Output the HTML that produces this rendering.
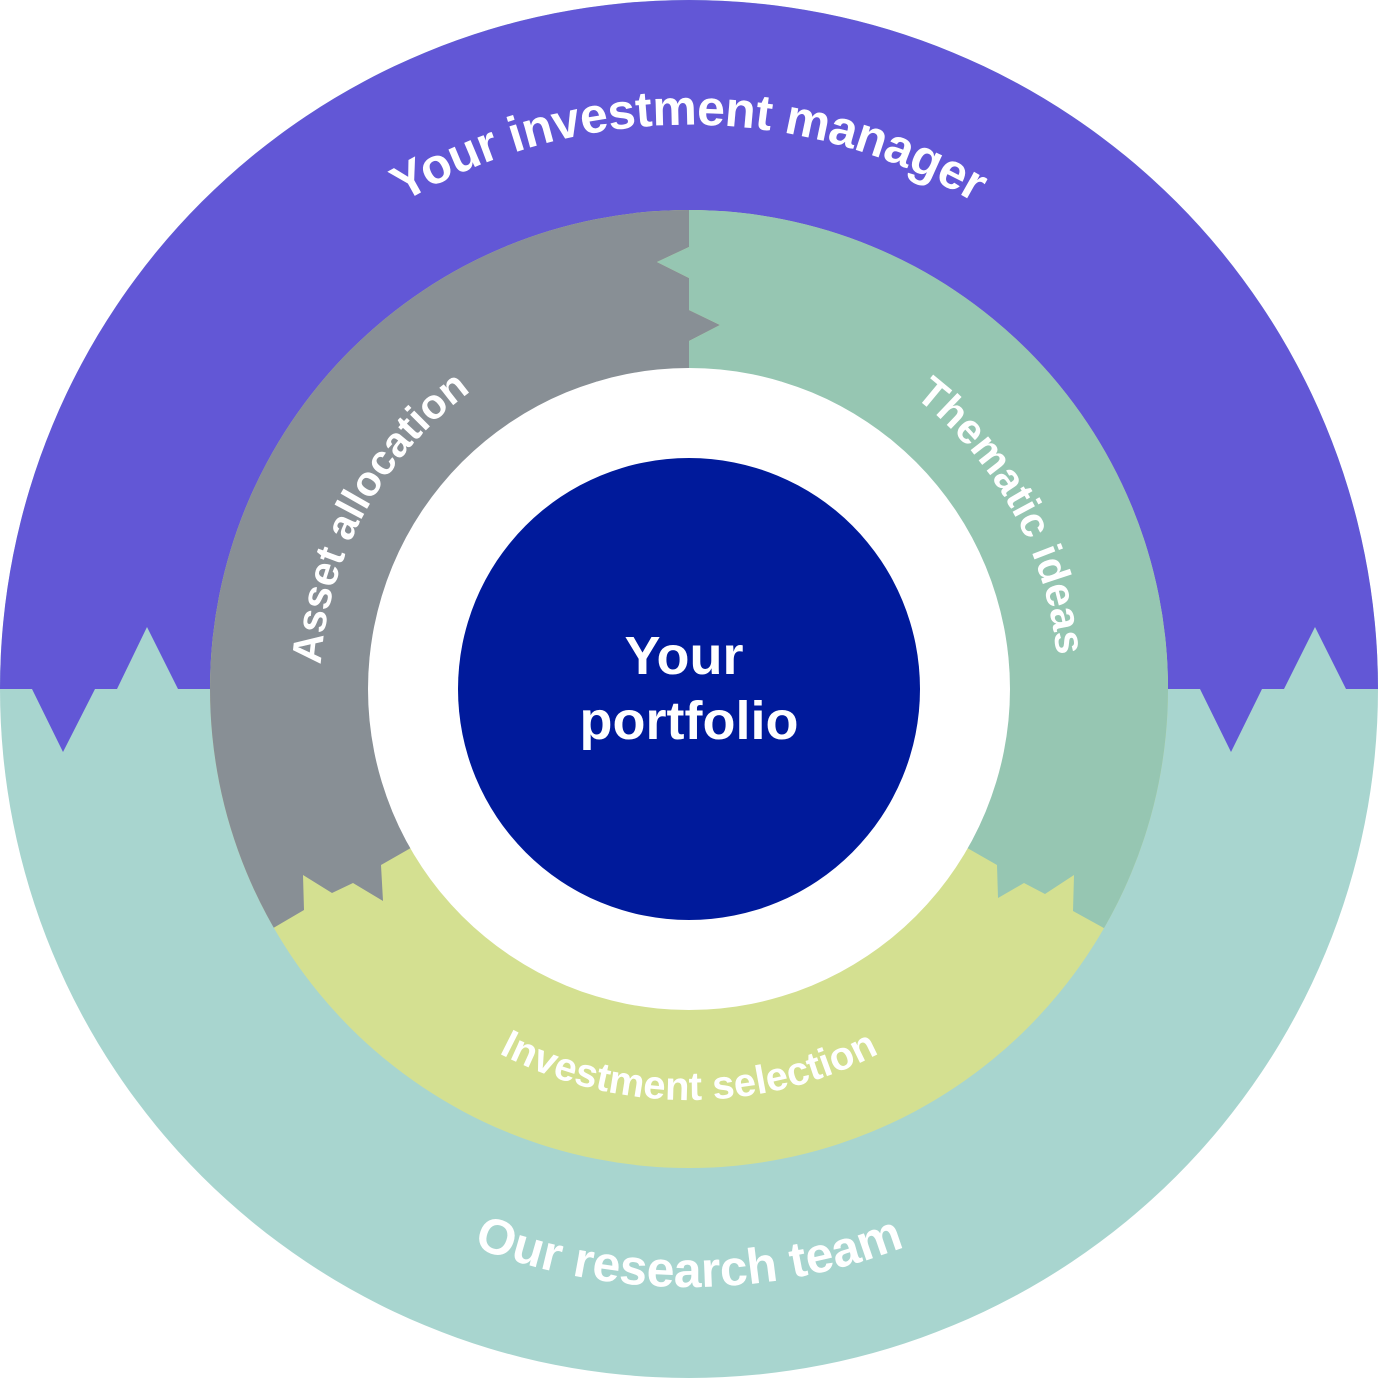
<!DOCTYPE html>
<html><head><meta charset="utf-8"><style>
html,body{margin:0;padding:0;background:#fff;}
svg{display:block;}
text{font-family:"Liberation Sans",sans-serif;font-weight:bold;fill:#fff;}
</style></head><body>
<svg width="1400" height="1391" viewBox="0 0 1400 1391" xmlns="http://www.w3.org/2000/svg">
<defs>
<clipPath id="outer"><circle cx="689" cy="689" r="689"/></clipPath>
<clipPath id="mid"><circle cx="689" cy="689" r="479"/></clipPath>
<path id="ctop" d="M1253 689 A564 564 0 1 1 125 689 A564 564 0 1 1 1253 689"/>
<path id="cbot" d="M1287 689 A598 598 0 1 0 91 689 A598 598 0 1 0 1287 689"/>
<path id="cinv" d="M1100 689 A411 411 0 1 0 278 689 A411 411 0 1 0 1100 689"/>
<path id="cmid" d="M1058 689 A369 369 0 1 1 320 689 A369 369 0 1 1 1058 689"/>
</defs>
<g clip-path="url(#outer)">
<rect x="0" y="0" width="1400" height="1400" fill="#a8d5cf"/>
<polygon fill="#6257d6" points="0,0 1400,0 1400,689 1346,689 1315,627 1284,689 1262,689 1231,752 1200,689 178,689 147,627 117,689 95,689 63,752 32,689 0,689"/>
</g>
<g clip-path="url(#mid)">
<rect x="0" y="0" width="1400" height="1400" fill="#d4e091"/>
<polygon fill="#888f95" points="689,0 689,247 657,262 689,278 689,310 720,325 689,341 689,689 381,865 383,901 353,883 332,893 303,875 304,910 275,927 200,970 0,1100 0,0"/>
<polygon fill="#96c6b2" points="689,0 689,247 657,262 689,278 689,310 720,325 689,341 689,689 997,865 998,898 1024,883 1045,894 1074,875 1073,911 1102,927 1200,985 1400,1100 1400,0"/>
</g>
<circle cx="689" cy="689" r="321" fill="#fff"/>
<circle cx="689" cy="689" r="231" fill="#001a9b"/>
<text font-size="50" letter-spacing="-0.5"><textPath href="#ctop" startOffset="75%" text-anchor="middle">Your investment manager</textPath></text>
<text font-size="50"><textPath href="#cbot" startOffset="75%" text-anchor="middle">Our research team</textPath></text>
<text font-size="40"><textPath href="#cinv" startOffset="75%" text-anchor="middle">Investment selection</textPath></text>
<text font-size="42"><textPath href="#cmid" startOffset="58.0%" text-anchor="middle">Asset allocation</textPath></text>
<text font-size="42"><textPath href="#cmid" startOffset="92.0%" text-anchor="middle">Thematic ideas</textPath></text>
<text x="684" y="674" font-size="54" text-anchor="middle">Your</text>
<text x="689" y="739" font-size="54" text-anchor="middle">portfolio</text>
</svg>
</body></html>
